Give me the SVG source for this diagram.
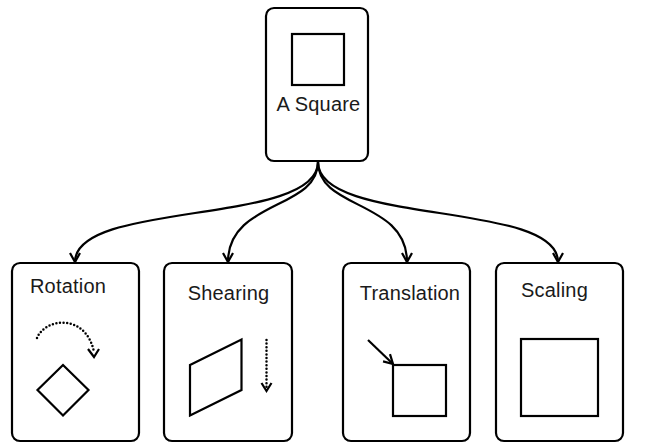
<svg xmlns="http://www.w3.org/2000/svg" width="652" height="447" viewBox="0 0 652 447">
<style>
.box{fill:#fff;stroke:#000;stroke-width:2.2}
.shape{fill:none;stroke:#000;stroke-width:2.2}
.conn{fill:none;stroke:#000;stroke-width:2.2}
.dot{fill:none;stroke:#000;stroke-width:2.5;stroke-linecap:round;stroke-dasharray:0 3.6}
.lbl{font-family:"Liberation Sans",Arial,sans-serif;font-size:20px;letter-spacing:0.2px;fill:#1a1a1a;text-anchor:middle}
</style>
<defs>
<marker id="arr" viewBox="-11 -7 13 14" markerWidth="13" markerHeight="14" refX="0" refY="0" orient="auto" markerUnits="userSpaceOnUse">
<path d="M-9,-5 L0,0 L-9,5" fill="none" stroke="#000" stroke-width="2.2" stroke-linejoin="miter"/>
</marker>
</defs>
<rect width="652" height="447" fill="#fff"/>
<g id="connectors">
<path class="conn" d="M318,162 C318,226 75,200 75,262" marker-end="url(#arr)"/>
<path class="conn" d="M318,162 C318,210 228,200 228,262" marker-end="url(#arr)"/>
<path class="conn" d="M318,162 C318,210 407,200 407,262" marker-end="url(#arr)"/>
<path class="conn" d="M318,162 C318,226 558,200 558,262" marker-end="url(#arr)"/>
</g>
<g id="square">
<rect class="box" x="266" y="8" width="102" height="153" rx="8"/>
<rect class="shape" x="292" y="34" width="52" height="51"/>
<text class="lbl" x="318.5" y="111">A Square</text>
</g>
<g id="rotation">
<rect class="box" x="12" y="263" width="127" height="178" rx="8"/>
<text class="lbl" x="68" y="293">Rotation</text>
<path class="dot" d="M37,338 C45,318 86,313 94,352"/>
<path d="M88,349 L94,357 L99,349" fill="none" stroke="#000" stroke-width="2.2"/>
<polygon class="shape" points="63,365 88.5,390 63,415.5 37.5,390"/>
</g>
<g id="shearing">
<rect class="box" x="164" y="263" width="128" height="178" rx="8"/>
<text class="lbl" x="228.5" y="300">Shearing</text>
<polygon class="shape" points="190,365 241.5,339.5 241.5,390 190,415.5"/>
<path class="dot" d="M266.5,340 L266.5,387"/>
<path d="M261.5,383 L266.5,391 L271.5,383" fill="none" stroke="#000" stroke-width="2.2"/>
</g>
<g id="translation">
<rect class="box" x="343" y="263" width="127" height="178" rx="8"/>
<text class="lbl" x="410" y="300">Translation</text>
<path class="conn" d="M368,340 L393,364" marker-end="url(#arr)"/>
<rect class="shape" x="393" y="365" width="53" height="51"/>
</g>
<g id="scaling">
<rect class="box" x="496" y="263" width="127" height="178" rx="8"/>
<text class="lbl" x="554.5" y="297">Scaling</text>
<rect class="shape" x="521" y="339" width="77" height="77"/>
</g>
</svg>
